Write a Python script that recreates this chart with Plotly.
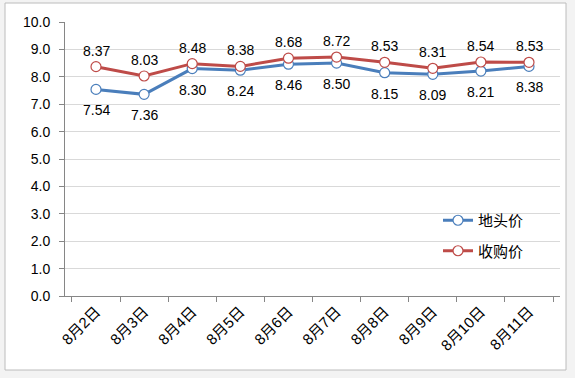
import plotly.graph_objects as go

categories = ["8月2日", "8月3日", "8月4日", "8月5日", "8月6日", "8月7日", "8月8日", "8月9日", "8月10日", "8月11日"]
field_price = [7.54, 7.36, 8.30, 8.24, 8.46, 8.50, 8.15, 8.09, 8.21, 8.38]
purchase_price = [8.37, 8.03, 8.48, 8.38, 8.68, 8.72, 8.53, 8.31, 8.54, 8.53]
y_ticks = [0, 1, 2, 3, 4, 5, 6, 7, 8, 9, 10]

FONT = "Liberation Sans, Noto Sans CJK SC, sans-serif"
BLUE = "#4A7EBB"
RED = "#BE4B48"

fig = go.Figure()
fig.add_trace(go.Scatter(
    x=categories, y=field_price, name="地头价", mode="lines+markers",
    line=dict(color=BLUE, width=3),
    marker=dict(symbol="circle", size=10, color="white", line=dict(color=BLUE, width=1.2)),
    legendgroup="a",
))
fig.add_trace(go.Scatter(
    x=categories, y=purchase_price, name="收购价", mode="lines+markers",
    line=dict(color=RED, width=3),
    marker=dict(symbol="circle", size=10, color="white", line=dict(color=RED, width=1.2)),
    legendgroup="b",
))

for c, v in zip(categories, field_price):
    fig.add_annotation(x=c, y=v, text=f"{v:.2f}", showarrow=False, yshift=-21,
                       font=dict(size=14, color="#000000", family=FONT))
for c, v in zip(categories, purchase_price):
    fig.add_annotation(x=c, y=v, text=f"{v:.2f}", showarrow=False, yshift=16,
                       font=dict(size=14, color="#000000", family=FONT))

L, R, T, B = 65, 15, 22, 82
W, H = 575, 378
pw, ph = W - L - R, H - T - B

def px_x(p):
    return (p - L) / pw

def px_y(p):
    return (H - B - p) / ph

fig.add_shape(type="rect", xref="paper", yref="paper",
              x0=px_x(5), x1=px_x(566), y0=px_y(370), y1=px_y(3),
              line=dict(color="#bcbcbc", width=1), fillcolor="white", layer="below")

fig.update_layout(
    width=W, height=H,
    margin=dict(l=L, r=R, t=T, b=B, autoexpand=False),
    paper_bgcolor="#f3f3f3",
    plot_bgcolor="rgba(0,0,0,0)",
    font=dict(family=FONT, size=14, color="#000000"),
    showlegend=True,
    legend=dict(x=px_x(438), y=px_y(204), xanchor="left", yanchor="top",
                bgcolor="rgba(0,0,0,0)", font=dict(size=15, family=FONT),
                traceorder="grouped", tracegroupgap=8, itemwidth=30),
)
fig.update_xaxes(
    type="category", tickangle=-45, tickson="boundaries", automargin=False,
    ticks="outside", ticklen=5, tickcolor="#868686",
    showline=True, linecolor="#868686", linewidth=1,
    showgrid=False, tickfont=dict(size=15, family=FONT),
)
fig.update_yaxes(
    range=[0, 10], tickvals=y_ticks, ticktext=[f"{v:.1f}" for v in y_ticks],
    ticks="outside", ticklen=5, tickcolor="#868686", automargin=False,
    ticklabelstandoff=6,
    showline=True, linecolor="#868686", linewidth=1,
    showgrid=True, gridcolor="#d9d9d9", gridwidth=1,
    zeroline=False, tickfont=dict(size=14, family=FONT),
)

fig.write_html("out.html", config={"displayModeBar": False},
               post_script="document.body.style.margin='0';document.body.style.overflow='hidden';")
